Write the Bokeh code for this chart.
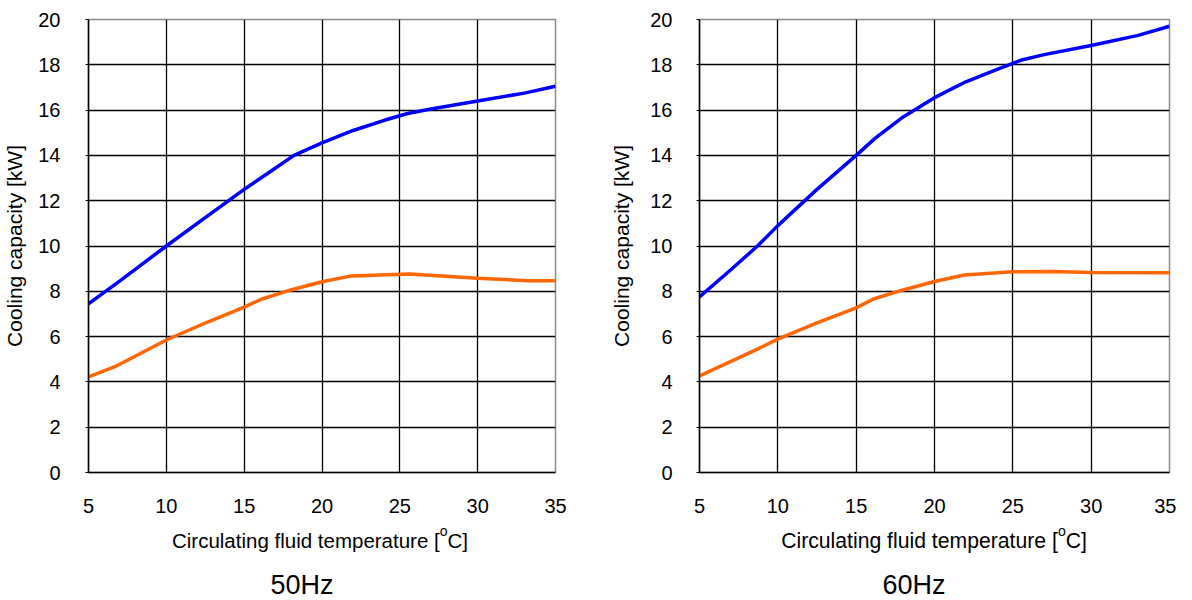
from bokeh.plotting import figure
from bokeh.models import Range1d, FixedTicker, Div
from bokeh.layouts import row, column
from bokeh.embed import file_html
from bokeh.resources import INLINE

x_ticks = [5, 10, 15, 20, 25, 30, 35]
y_ticks = [0, 2, 4, 6, 8, 10, 12, 14, 16, 18, 20]

titles = ["50Hz", "60Hz"]
x_label = "Circulating fluid temperature ["
x_label_sup = "o"
x_label_end = "C]"
y_label = "Cooling capacity [kW]"

t50_blue = [5, 7, 10, 12.5, 15, 16.5, 18.2, 20, 22, 24, 25.5, 27, 30, 33, 35]
cap50_blue = [7.45, 8.45, 10.0, 11.25, 12.5, 13.2, 14.0, 14.55, 15.1, 15.55, 15.85, 16.05, 16.4, 16.75, 17.05]
t50_orange = [5, 6.7, 10, 12.5, 15, 16.1, 18, 20, 21.9, 25.6, 30, 33.2, 35]
cap50_orange = [4.22, 4.67, 5.85, 6.6, 7.3, 7.65, 8.06, 8.42, 8.68, 8.76, 8.58, 8.47, 8.47]

t60_blue = [5, 7, 8.7, 10, 12.5, 15, 16.2, 18, 20, 22, 24, 25.5, 27, 30, 33, 35]
cap60_blue = [7.75, 8.95, 10.0, 10.9, 12.5, 14.0, 14.75, 15.7, 16.55, 17.25, 17.8, 18.2, 18.45, 18.85, 19.3, 19.7]
t60_orange = [5, 8.7, 10, 12.5, 15, 16.1, 18, 20, 21.9, 25, 27.5, 30, 35]
cap60_orange = [4.26, 5.45, 5.89, 6.61, 7.27, 7.66, 8.06, 8.43, 8.72, 8.86, 8.87, 8.83, 8.82]

FONT = "Liberation Sans"


def panel(tb, cb, to, co, mb_left, mb_right, mb_top, mb_bottom, ylab_standoff, ytick_standoff):
    p = figure(width=588, height=530, output_backend="svg", toolbar_location=None,
               x_range=Range1d(5, 35), y_range=Range1d(0, 20),
               min_border_left=mb_left, min_border_right=mb_right,
               min_border_top=mb_top, min_border_bottom=mb_bottom)
    p.background_fill_color = "white"
    p.border_fill_color = "white"
    p.outline_line_color = "#8c8c8c"
    p.outline_line_width = 1.5

    for g, ticks in ((p.xgrid, x_ticks), (p.ygrid, y_ticks)):
        g.ticker = FixedTicker(ticks=ticks)
        g.grid_line_color = "black"
        g.grid_line_width = 1.3

    p.xaxis.ticker = FixedTicker(ticks=x_ticks)
    p.yaxis.ticker = FixedTicker(ticks=y_ticks)
    for ax in (p.xaxis[0], p.yaxis[0]):
        ax.axis_line_color = "black"
        ax.axis_line_width = 1.5
        ax.major_tick_line_color = "black"
        ax.major_tick_in = 0
        ax.minor_tick_line_color = None
        ax.major_label_text_font = FONT
        ax.major_label_text_font_size = "20px"
        ax.major_label_text_color = "black"
    p.xaxis.major_tick_out = 0
    p.xaxis.major_label_standoff = 26
    p.yaxis.major_tick_out = 3
    p.yaxis.major_label_standoff = ytick_standoff
    p.yaxis.axis_label = y_label
    p.yaxis.axis_label_text_font = FONT
    p.yaxis.axis_label_text_font_size = "21px"
    p.yaxis.axis_label_text_font_style = "normal"
    p.yaxis.axis_label_text_color = "black"
    p.yaxis.axis_label_standoff = ylab_standoff

    p.line(tb, cb, line_color="#0000ff", line_width=3.5)
    p.line(to, co, line_color="#ff6600", line_width=3.5)
    return p


def caption(title, label_center, label_size, title_center):
    html = (
        '<div style="position:relative;width:588px;height:68px;'
        "font-family:'Liberation Sans',Arial,sans-serif;color:black;\">"
        f'<div style="position:absolute;top:-9px;left:{label_center}px;transform:translateX(-50%);'
        f'white-space:nowrap;font-size:{label_size}px;line-height:20px;">'
        f'{x_label}<span style="font-size:14px;vertical-align:12px;">{x_label_sup}</span>{x_label_end}</div>'
        f'<div style="position:absolute;top:42px;left:{title_center}px;transform:translateX(-50%);'
        f'white-space:nowrap;font-size:27px;line-height:27px;">{title}</div>'
        '</div>'
    )
    return Div(text=html, width=588, height=68, margin=0)


p1 = panel(t50_blue, cap50_blue, t50_orange, cap50_orange, 88, 33, 19, 58, 9, 25)
p2 = panel(t60_blue, cap60_blue, t60_orange, cap60_orange, 111, 7, 16, 54, 14, 24)

d1 = caption(titles[0], 320, 20.5, 302)
d2 = caption(titles[1], 346, 21.2, 326)

layout = column(row(p1, p2, spacing=0), row(d1, d2, spacing=0), spacing=0)
open("out.html", "w").write(file_html(layout, INLINE))
